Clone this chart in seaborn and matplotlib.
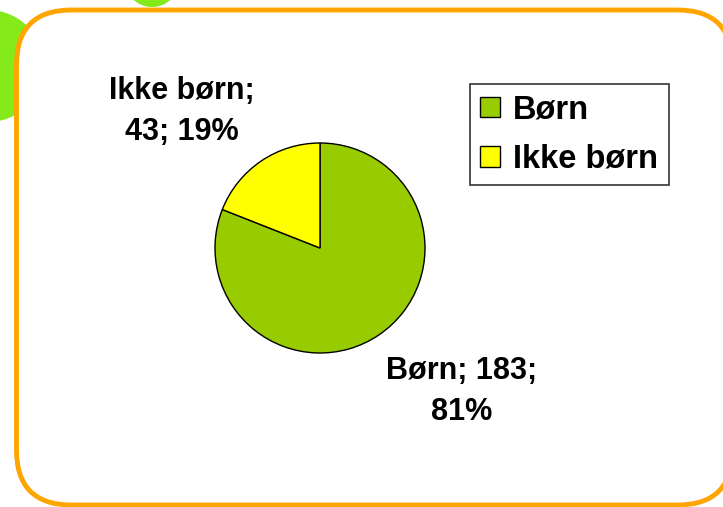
import matplotlib
matplotlib.use("Agg")
import matplotlib.pyplot as plt
from matplotlib.patches import FancyBboxPatch, Circle, Patch
import seaborn as sns

categories = ["Børn", "Ikke børn"]
counts = [183, 43]
percents = [81, 19]
colors = ["#99CC00", "#FFFF00"]

sns.set_theme(style="white")
plt.rcParams["font.family"] = ["Liberation Sans", "DejaVu Sans"]
plt.rcParams["font.weight"] = "bold"
plt.rcParams["text.color"] = "black"

W, H = 723, 507
fig = plt.figure(figsize=(W / 100, H / 100), dpi=100)
fig.patch.set_facecolor("white")

# background layer in pixel coordinates
bg = fig.add_axes([0, 0, 1, 1])
bg.set_xlim(0, W)
bg.set_ylim(H, 0)
bg.axis("off")
bg.add_patch(Circle((-12, 66), 56, color="#77E800", alpha=0.9, lw=0))
bg.add_patch(Circle((152, -20), 27, color="#77E800", alpha=0.9, lw=0))
bg.add_patch(FancyBboxPatch((16.5, 10), 716, 495,
                            boxstyle="round,pad=0,rounding_size=55",
                            facecolor="white", edgecolor="#FFA500", lw=3.5))

# pie
cx, cy, r = 320, 248, 105
ax = fig.add_axes([(cx - r) / W, (H - cy - r) / H, 2 * r / W, 2 * r / H])
ax.pie(counts, colors=colors, startangle=90, counterclock=False,
       wedgeprops=dict(edgecolor="black", linewidth=1))
ax.set_xlim(-1, 1)
ax.set_ylim(-1, 1)
ax.set_aspect("auto")

fs = 22
bg.text(462, 356, f"{categories[0]}; {counts[0]};\n{percents[0]}%",
        ha="center", va="top", fontsize=fs, fontweight="bold",
        linespacing=1.47)
bg.text(181.5, 76, f"{categories[1]};\n{counts[1]}; {percents[1]}%",
        ha="center", va="top", fontsize=fs, fontweight="bold",
        linespacing=1.47)

handles = [Patch(facecolor=c, edgecolor="black", linewidth=1) for c in colors]
leg = fig.legend(handles, categories, loc="upper left",
                 bbox_to_anchor=(470 / W, 1 - 84 / H),
                 prop=dict(size=23.5, weight="bold"),
                 frameon=True, fancybox=False, edgecolor="black",
                 handlelength=0.6, handleheight=0.6, handletextpad=0.4,
                 borderpad=0.32, labelspacing=0.56, borderaxespad=0)
leg.get_frame().set_linewidth(1.2)

fig.savefig("out.png", dpi=100)
